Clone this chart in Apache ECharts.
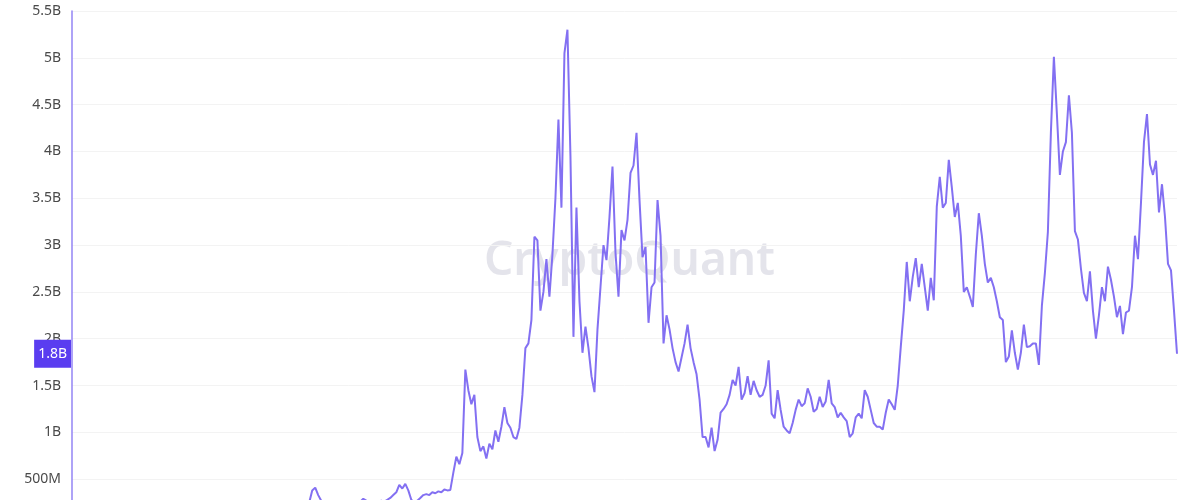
<!DOCTYPE html>
<html>
<head>
<meta charset="utf-8">
<script src="https://cdn.jsdelivr.net/npm/echarts@6/dist/echarts.min.js"></script>
<style>
html,body{margin:0;padding:0;background:#fff;}
#chart{width:1200px;height:500px;}
</style>
</head>
<body>
<div id="chart"></div>
<script>
// values in billions (B)
const hiddenStart = [
  0.05,0.06,0.05,0.07,0.08,0.07,0.09,0.10,0.09,0.11,
  0.12,0.10,0.11,0.13,0.12,0.14,0.13,0.15,0.16,0.14,
  0.15,0.17,0.16,0.18,0.17,0.15,0.14,0.16,0.15,0.13,
  0.14,0.12,0.13,0.14,0.12,0.11,0.12,0.13,0.12,0.11,
  0.10,0.12,0.11,0.13,0.12,0.14,0.13,0.12,0.14,0.15,
  0.13,0.14,0.16,0.15,0.17,0.16,0.18,0.17,0.19,0.18,
  0.20,0.19,0.21,0.20,0.22,0.21,0.20,0.22,0.21,0.23,
  0.22,0.21,0.23,0.22,0.24,0.23,0.22,0.24,0.23
];
const visibleValues = [
  0.25,0.38,0.41,0.33,0.27,0.24,0.22,0.20,0.21,0.22,
  0.20,0.21,0.23,0.22,0.24,0.23,0.25,0.26,0.29,0.27,
  0.25,0.24,0.26,0.25,0.27,0.26,0.28,0.30,0.33,0.36,
  0.44,0.40,0.45,0.38,0.28,0.25,0.27,0.30,0.33,0.34,
  0.33,0.36,0.35,0.37,0.36,0.39,0.38,0.385,0.57,0.74,
  0.66,0.78,1.67,1.45,1.30,1.40,0.95,0.80,0.85,0.72,
  0.88,0.82,1.02,0.90,1.06,1.27,1.10,1.05,0.95,0.93,
  1.05,1.40,1.90,1.95,2.20,3.09,3.05,2.30,2.50,2.85,
  2.45,2.90,3.50,4.34,3.40,5.05,5.30,3.95,2.02,3.40,
  2.40,1.85,2.13,1.90,1.60,1.43,2.10,2.55,3.00,2.84,
  3.30,3.84,2.92,2.45,3.16,3.05,3.27,3.77,3.85,4.20,
  3.48,2.87,2.98,2.17,2.55,2.60,3.48,3.10,1.95,2.25,
  2.10,1.90,1.75,1.65,1.80,1.95,2.15,1.90,1.75,1.62,
  1.35,0.95,0.95,0.84,1.05,0.80,0.92,1.21,1.25,1.30,
  1.40,1.56,1.50,1.70,1.35,1.42,1.60,1.40,1.55,1.45,
  1.38,1.40,1.50,1.77,1.20,1.15,1.45,1.24,1.06,1.02,
  0.99,1.10,1.24,1.35,1.28,1.31,1.47,1.38,1.22,1.25,
  1.38,1.27,1.33,1.56,1.31,1.27,1.16,1.21,1.16,1.12,
  0.95,0.99,1.16,1.20,1.15,1.45,1.38,1.24,1.10,1.06,
  1.06,1.03,1.21,1.35,1.30,1.24,1.50,1.91,2.30,2.82,
  2.40,2.66,2.86,2.55,2.80,2.55,2.30,2.65,2.41,3.41,
  3.73,3.40,3.45,3.91,3.62,3.30,3.45,3.10,2.50,2.55,
  2.45,2.34,2.90,3.34,3.10,2.80,2.60,2.65,2.55,2.40,
  2.23,2.20,1.75,1.81,2.09,1.85,1.67,1.85,2.15,1.91,
  1.92,1.95,1.95,1.72,2.35,2.70,3.14,4.20,5.01,4.40,
  3.75,4.00,4.10,4.60,4.20,3.15,3.06,2.75,2.49,2.40,
  2.72,2.30,2.00,2.25,2.55,2.40,2.77,2.63,2.45,2.23,
  2.35,2.05,2.28,2.30,2.55,3.10,2.85,3.45,4.10,4.40,
  3.86,3.75,3.90,3.35,3.65,3.30,2.80,2.73,2.30,1.84
];
const seriesValues = hiddenStart.concat(visibleValues);
const watermark = 'CryptoQuant';

// categories: one per sample, 8 days apart
const startDate = new Date(Date.UTC(2017, 8, 1));
const categories = seriesValues.map((_, i) => {
  const d = new Date(startDate.getTime() + i * 8 * 86400000);
  return d.toISOString().slice(0, 10);
});

function fmt(v) {
  if (v === 0) return '0';
  if (v < 1) return Math.round(v * 1000) + 'M';
  return (+v.toFixed(2)) + 'B';
}

const lastValue = seriesValues[seriesValues.length - 1];
const chart = echarts.init(document.getElementById('chart'), null, {renderer: 'canvas'});
chart.setOption({
  animation: false,
  backgroundColor: '#ffffff',
  graphic: [{
    type: 'text',
    left: 484,
    top: 239,
    z: 0,
    silent: true,
    style: {
      text: watermark,
      fontFamily: 'Noto Sans',
      fontSize: 46,
      fontWeight: 600,
      fill: 'rgba(205,205,218,0.55)'
    }
  }],
  grid: {left: 72, top: 11, right: 23, height: 515, outerBoundsMode: 'none', containLabel: false},
  xAxis: {
    type: 'category',
    data: categories,
    boundaryGap: false,
    show: false
  },
  yAxis: {
    type: 'value',
    min: 0,
    max: 5.5,
    interval: 0.5,
    axisLine: {show: true, lineStyle: {color: '#9384f4', width: 1.5}},
    axisTick: {show: false},
    axisLabel: {
      margin: 11,
      color: '#4a4a4a',
      fontSize: 14,
      fontFamily: 'Noto Sans',
      formatter: fmt
    },
    splitLine: {lineStyle: {color: '#f3f3f3', width: 1}}
  },
  series: [{
    type: 'line',
    data: seriesValues,
    showSymbol: false,
    symbol: 'none',
    z: 3,
    lineStyle: {color: '#8370f2', width: 2},
    markLine: {
      silent: true,
      symbol: 'none',
      z: 10,
      lineStyle: {color: 'rgba(0,0,0,0)', width: 0, type: 'solid'},
      label: {
        show: true,
        position: 'start',
        distance: 1,
        formatter: () => lastValue.toFixed(1) + 'B',
        backgroundColor: '#5a3df0',
        color: '#ffffff',
        opacity: 1,
        fontSize: 14,
        lineHeight: 16,
        fontFamily: 'Noto Sans',
        padding: [6, 4, 6, 4]
      },
      data: [{yAxis: lastValue}]
    }
  }]
});
</script>
</body>
</html>
